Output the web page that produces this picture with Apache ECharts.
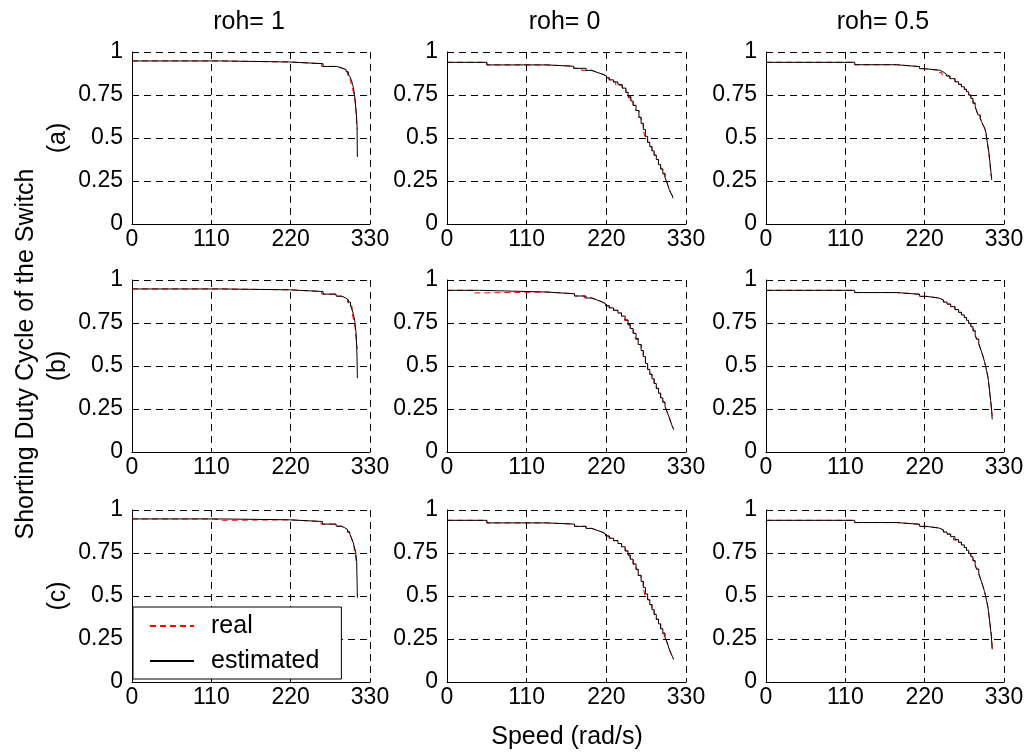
<!DOCTYPE html>
<html><head><meta charset="utf-8">
<script src="https://cdn.jsdelivr.net/npm/echarts@6/dist/echarts.min.js"></script>
<style>html,body{margin:0;padding:0;background:#fff}#c{width:1029px;height:753px}</style>
</head><body><div id="c"></div>
<script>
// ---- text ----
const colTitles = ['roh= 1', 'roh= 0', 'roh= 0.5'];
const rowLabels = ['(a)', '(b)', '(c)'];
const yAxisTitle = 'Shorting Duty Cycle of the Switch';
const xAxisTitle = 'Speed (rad/s)';
const seriesNames = ['real', 'estimated'];
// ---- ticks ----
const xTicks = [0, 110, 220, 330];
const yTicks = [0, 0.25, 0.5, 0.75, 1];

// ---- data: [speed (rad/s), duty cycle] ----
// row (a)
const estA1 = [[0,0.948],[124,0.942],[218,0.932],[265,0.916],[284,0.906],[292,0.897],[297,0.885],[300,0.87],[302,0.858],[304,0.838],[306,0.81],[308,0.77],[309.5,0.72],[311,0.64],[312,0.575],[312.5,0.39]];
const realA1 = [[0,0.948],[122,0.942],[218,0.932],[263,0.916],[284,0.906],[291,0.897],[296,0.884],[299,0.866],[302,0.852],[303,0.83],[305,0.80],[307,0.765],[309,0.72],[310.5,0.66],[311.5,0.58],[312.5,0.55]];
const estA2 = [[0,0.94],[55,0.925],[138,0.917],[175,0.905],[192,0.893],[200,0.882],[207,0.872],[214,0.862],[220,0.85],[224,0.838],[230,0.826],[236,0.81],[242,0.79],[247,0.765],[250,0.74],[254,0.715],[257,0.69],[261,0.66],[265,0.62],[268,0.585],[271,0.55],[274,0.51],[277,0.475],[280,0.45],[283,0.425],[286,0.4],[289,0.375],[292,0.345],[295,0.32],[298,0.295],[301,0.27],[303,0.25],[305,0.225],[307,0.2],[309,0.18],[311,0.165],[312,0.15]];
const realA2 = [[0,0.94],[55,0.925],[138,0.917],[175,0.905],[186,0.893],[200,0.882],[207,0.872],[214,0.862],[220,0.85],[224,0.838],[229,0.826],[233,0.805],[242,0.79],[247,0.765],[250,0.735],[253,0.715],[257,0.69],[260,0.66],[265,0.62],[268,0.585],[271,0.55],[273,0.51],[277,0.475],[280,0.45],[283,0.425],[286,0.4],[289,0.375],[292,0.345],[295,0.32],[298,0.29],[301,0.265],[303,0.25],[305,0.225],[307,0.2],[309,0.18],[311,0.165],[312,0.15]];
const estA3 = [[0,0.94],[123,0.926],[181,0.915],[213,0.903],[220,0.894],[241,0.883],[246,0.872],[250,0.86],[255,0.845],[262,0.827],[267,0.812],[271,0.798],[275,0.783],[278,0.769],[281,0.75],[284,0.73],[287,0.705],[290,0.682],[292,0.658],[294,0.634],[297,0.615],[299,0.595],[301,0.575],[303.5,0.556],[305,0.53],[306,0.498],[307,0.47],[308.3,0.44],[309.5,0.4],[310.6,0.353],[312,0.3],[313,0.256]];
const realA3 = [[0,0.94],[123,0.926],[181,0.915],[213,0.903],[220,0.894],[238,0.88],[244,0.868],[250,0.86],[255,0.845],[262,0.827],[267,0.812],[271,0.798],[275,0.783],[278,0.769],[281,0.75],[284,0.73],[287,0.7],[290,0.682],[292,0.658],[294,0.634],[297,0.615],[299,0.595],[301,0.575],[303,0.556],[305,0.53],[306,0.498],[307,0.47],[308.3,0.42],[309.5,0.39],[310.6,0.353],[311.5,0.29],[313,0.27]];
// row (b)
const estB1 = [[0,0.948],[124,0.943],[218,0.933],[265,0.918],[283,0.906],[291,0.896],[296,0.885],[300,0.872],[303,0.85],[305,0.83],[307,0.8],[309,0.76],[310.5,0.7],[311.5,0.62],[312,0.55],[312.5,0.43]];
const realB1 = [[0,0.948],[122,0.943],[218,0.933],[263,0.918],[283,0.906],[290,0.896],[296,0.885],[299,0.868],[302,0.85],[305,0.82],[306,0.79],[308.5,0.75],[310,0.7],[311.5,0.62],[312.5,0.6]];
const estB2 = [[0,0.94],[45,0.93],[138,0.92],[176,0.907],[192,0.895],[200,0.884],[207,0.873],[214,0.862],[219,0.85],[224,0.838],[230,0.824],[236,0.808],[241,0.79],[246,0.768],[250,0.74],[253,0.718],[257,0.69],[261,0.66],[264,0.625],[268,0.59],[271,0.555],[274,0.515],[277,0.48],[280,0.452],[283,0.425],[286,0.398],[289,0.37],[292,0.342],[295,0.315],[298,0.29],[301,0.265],[303,0.245],[305,0.22],[307,0.2],[309,0.175],[311,0.15],[313,0.13]];
const realB2 = [[0,0.94],[38,0.925],[50,0.93],[138,0.92],[176,0.907],[190,0.895],[200,0.884],[207,0.873],[214,0.862],[219,0.85],[224,0.838],[230,0.824],[236,0.808],[241,0.79],[245,0.765],[250,0.74],[253,0.718],[257,0.69],[260,0.655],[264,0.625],[268,0.59],[271,0.555],[274,0.515],[277,0.48],[280,0.452],[283,0.425],[286,0.398],[289,0.37],[292,0.342],[295,0.315],[298,0.29],[301,0.262],[303,0.24],[305,0.22],[307,0.2],[309,0.17],[311,0.15],[313,0.135]];
const estB3 = [[0,0.94],[123,0.927],[181,0.917],[213,0.905],[222,0.895],[240,0.884],[246,0.872],[251,0.86],[256,0.845],[262,0.828],[267,0.812],[271,0.797],[275,0.782],[278,0.766],[281,0.748],[284,0.728],[287,0.705],[290,0.68],[292,0.656],[295,0.63],[297,0.605],[299,0.58],[301,0.555],[303,0.525],[304.5,0.5],[306,0.47],[307.5,0.44],[308.5,0.41],[309.5,0.375],[310.5,0.34],[311.5,0.3],[312.5,0.26],[313.2,0.22],[313.6,0.19]];
const realB3 = [[0,0.94],[123,0.927],[181,0.917],[213,0.905],[222,0.895],[240,0.884],[246,0.872],[251,0.86],[256,0.845],[262,0.828],[267,0.812],[271,0.797],[275,0.782],[278,0.766],[281,0.748],[284,0.728],[287,0.705],[290,0.68],[292,0.656],[295,0.63],[297,0.605],[299,0.58],[301,0.555],[303,0.525],[304.5,0.5],[306,0.47],[307.5,0.44],[308.5,0.41],[309.5,0.37],[310.5,0.33],[311.5,0.3],[312.5,0.25],[313.2,0.23],[313.6,0.21]];
// row (c)
const estC1 = [[0,0.948],[125,0.943],[218,0.933],[264,0.918],[283,0.906],[290,0.897],[295,0.886],[299,0.873],[302,0.86],[304,0.84],[306,0.82],[308,0.79],[310,0.76],[311.5,0.7],[312.5,0.49]];
const realC1 = [[0,0.948],[113,0.94],[125,0.943],[218,0.933],[262,0.918],[283,0.906],[290,0.897],[295,0.886],[299,0.87],[302,0.855],[304,0.84],[306,0.815],[308,0.78],[309.5,0.74],[311,0.7],[312.5,0.68]];
const estC2 = [[0,0.94],[55,0.925],[138,0.918],[176,0.905],[192,0.893],[200,0.882],[207,0.872],[214,0.861],[219,0.849],[224,0.836],[230,0.822],[236,0.805],[241,0.786],[246,0.762],[250,0.738],[253,0.714],[257,0.686],[261,0.655],[264,0.62],[268,0.585],[271,0.55],[274,0.512],[277,0.478],[280,0.45],[283,0.42],[286,0.393],[289,0.365],[292,0.338],[295,0.31],[298,0.285],[301,0.26],[303,0.24],[305,0.215],[307,0.19],[309,0.17],[311,0.15],[313,0.13]];
const realC2 = [[0,0.94],[55,0.925],[138,0.918],[176,0.905],[192,0.893],[200,0.882],[207,0.872],[214,0.861],[219,0.849],[224,0.836],[230,0.822],[236,0.805],[241,0.786],[246,0.762],[250,0.738],[253,0.714],[257,0.686],[261,0.655],[264,0.62],[268,0.585],[271,0.55],[273,0.505],[277,0.478],[280,0.45],[283,0.42],[286,0.393],[289,0.365],[292,0.338],[295,0.31],[297,0.28],[300,0.255],[303,0.24],[305,0.215],[307,0.19],[309,0.165],[311,0.15],[313,0.14]];
const estC3 = [[0,0.94],[123,0.927],[181,0.917],[213,0.905],[222,0.895],[240,0.884],[246,0.872],[251,0.86],[256,0.845],[262,0.828],[267,0.812],[271,0.797],[275,0.782],[278,0.766],[281,0.748],[284,0.728],[287,0.705],[290,0.68],[292,0.656],[295,0.63],[297,0.605],[299,0.58],[301,0.555],[303,0.525],[304.5,0.5],[306,0.47],[307.5,0.44],[308.5,0.41],[309.5,0.375],[310.5,0.34],[311.5,0.3],[312.5,0.26],[313.2,0.22],[313.6,0.19]];
const realC3 = [[0,0.94],[123,0.927],[181,0.917],[213,0.905],[222,0.895],[240,0.884],[246,0.872],[251,0.86],[256,0.845],[260,0.825],[267,0.812],[271,0.797],[275,0.782],[278,0.766],[281,0.748],[284,0.728],[287,0.705],[290,0.68],[292,0.656],[295,0.63],[297,0.605],[299,0.58],[301,0.555],[303,0.525],[304.5,0.5],[306,0.47],[307.5,0.44],[308.5,0.41],[309.5,0.375],[310.5,0.34],[311.5,0.31],[312.5,0.28],[313.2,0.24],[313.6,0.2]];

const realData = [[realA1, realA2, realA3], [realB1, realB2, realB3], [realC1, realC2, realC3]];
const estData  = [[estA1, estA2, estA3], [estB1, estB2, estB3], [estC1, estC2, estC3]];

// ---- layout / style ----
const FONT = '"Liberation Sans", Arial, Helvetica, sans-serif';
const FS = 23;      // tick labels
const FS_L = 25;    // titles / axis labels / legend
const colLeft = [132, 447, 766];
const colWidth = [238, 239, 238];
const rowTop = [52, 280, 510];
const rowHeight = 172;

const grids = [], xAxes = [], yAxes = [], series = [];
let idx = 0;
for (let r = 0; r < 3; r++) {
  for (let c = 0; c < 3; c++) {
    grids.push({ left: colLeft[c], top: rowTop[r], width: colWidth[c], height: rowHeight, containLabel: false });
    xAxes.push({
      gridIndex: idx, type: 'value',
      min: xTicks[0], max: xTicks[xTicks.length - 1], interval: xTicks[1] - xTicks[0],
      axisLine: { show: true, onZero: false, lineStyle: { color: '#000', width: 1 } },
      axisTick: { show: true, inside: true, length: 4, lineStyle: { color: '#000', width: 1 } },
      axisLabel: { show: true, color: '#000', fontSize: FS, fontFamily: FONT, margin: 4, showMinLabel: true, showMaxLabel: true, hideOverlap: false },
      splitLine: { show: true, lineStyle: { color: '#000', width: 1, type: [7, 5] } }
    });
    yAxes.push({
      gridIndex: idx, type: 'value',
      min: yTicks[0], max: yTicks[yTicks.length - 1], interval: yTicks[1] - yTicks[0],
      axisLine: { show: true, onZero: false, lineStyle: { color: '#000', width: 1 } },
      axisTick: { show: true, inside: true, length: 4, lineStyle: { color: '#000', width: 1 } },
      axisLabel: { show: true, color: '#000', fontSize: FS, fontFamily: FONT, margin: 9, showMinLabel: true, showMaxLabel: true, hideOverlap: false,
        formatter: v => String(+(+v).toFixed(2)) },
      splitLine: { show: true, lineStyle: { color: '#000', width: 1, type: [7, 5] } }
    });
    series.push({
      name: seriesNames[0], type: 'line', xAxisIndex: idx, yAxisIndex: idx, step: 'end',
      data: realData[r][c], symbol: 'none', showSymbol: false, clip: true,
      lineStyle: { color: '#ff0000', width: 1, type: [6, 4] }, itemStyle: { color: '#ff0000' },
      emphasis: { disabled: true }, z: 2
    });
    series.push({
      name: seriesNames[1], type: 'line', xAxisIndex: idx, yAxisIndex: idx, step: 'end',
      data: estData[r][c], symbol: 'none', showSymbol: false, clip: true,
      lineStyle: { color: '#000', width: 1, type: 'solid' }, itemStyle: { color: '#000' },
      emphasis: { disabled: true }, z: 3
    });
    idx++;
  }
}

function txt(x, y, s, size, rot) {
  return { type: 'text', x: x, y: y, rotation: rot || 0,
    style: { text: s, font: size + 'px ' + FONT, fill: '#000', align: 'center', verticalAlign: 'middle', textAlign: 'center', textVerticalAlign: 'middle' } };
}
const graphics = [];
for (let c = 0; c < 3; c++) graphics.push(txt(colLeft[c] + colWidth[c] / 2 - 2, 22, colTitles[c], FS_L));
for (let r = 0; r < 3; r++) graphics.push(txt(58, rowTop[r] + rowHeight / 2, rowLabels[r], FS_L, Math.PI / 2));
graphics.push(txt(26, 354, yAxisTitle, FS_L, Math.PI / 2));
graphics.push(txt(567, 737, xAxisTitle, FS_L));

const chart = echarts.init(document.getElementById('c'), null, { renderer: 'canvas' });
chart.setOption({
  animation: false,
  backgroundColor: '#fff',
  grid: grids, xAxis: xAxes, yAxis: yAxes, series: series,
  tooltip: { show: false },
  legend: {
    show: true, data: seriesNames, orient: 'vertical', left: 133, top: 607,
    backgroundColor: '#fff', borderColor: '#000', borderWidth: 1, borderRadius: 0,
    padding: [6, 22, 5, 16], itemWidth: 44, itemHeight: 14, itemGap: 9, z: 20,
    selectedMode: false,
    itemStyle: { opacity: 0 },
    textStyle: { fontSize: FS_L, fontFamily: FONT, color: '#000', padding: [0, 0, 0, 12], lineHeight: 26 }
  },
  graphic: graphics
});
</script>
</body></html>
